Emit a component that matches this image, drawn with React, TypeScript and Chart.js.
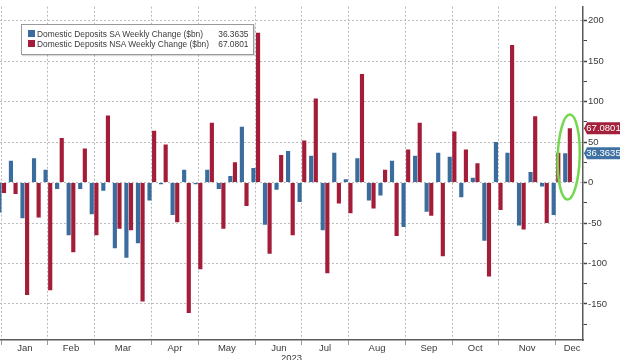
import React, { useEffect, useRef } from "react";
import { Chart, registerables } from "chart.js";

Chart.register(...registerables);

// Weekly changes, Jan 2023 - Dec 2023 ($bn)
const saValues = [
  -37, 27, -44, 30, 16, -8, -65, -8, -39, -10,
  -81, -93, -75, -22, -2, -40, 16, -2, 16, -8,
  8, 69, 18, -52, -9, 39, -24, 33, -59, 37,
  4, 30, -22, -16, 27, -55, 33, -36, 37, 32,
  -18, 6, -72, 50, 37, -53, 13, -5, -40, 36.3635,
];
const nsaValues = [
  -13, -14, -139, -43, -133, 55, -86, 42, -65, 83,
  -57, -59, -147, 64, 47, -49, -161, -107, 74, -57,
  25, -29, 185, -88, 34, -65, 52, 104, -112, -26,
  -38, 134, -32, 16, -66, 41, 74, -41, -91, 63,
  41, 24, -116, -34, 170, -58, 82, -50, 37, 67.0801,
];
const seriesNames = [
  "Domestic Deposits SA Weekly Change ($bn)",
  "Domestic Deposits NSA Weekly Change ($bn)",
];
const lastValueLabels = ["36.3635", "67.0801"];
const monthLabels = ["Jan", "Feb", "Mar", "Apr", "May", "Jun", "Jul", "Aug", "Sep", "Oct", "Nov", "Dec"];
// week index of the first week of each month (gridlines)
const monthStartWeeks = [0, 4, 8, 13, 17, 22, 26, 30, 35, 39, 43, 48];
// week index where each month label sits
const monthLabelWeeks = [2, 6, 10.5, 15, 19.5, 24, 28, 32.5, 37, 41, 45.5, 49.4];
const yTickValues = [-175, -150, -125, -100, -75, -50, -25, 0, 25, 50, 75, 100, 125, 150, 175, 200];
const yearLabel = "2023";

const BLUE = "#3a6d9e";
const RED = "#a31c38";
const X_MIN = -0.147;
const X_MAX = 50.34;
const Y_MIN = -194.5;
const Y_MAX = 217.3;
const FONT = "'Liberation Sans', Arial, sans-serif";

const overlayPlugin = {
  id: "overlay",
  afterDatasetsDraw(chart: any) {
    const { ctx, scales } = chart;
    const last = saValues.length - 1;
    const cx = scales.x.getPixelForValue(last + 0.1);
    const yTop = scales.y.getPixelForValue(84);
    const yBot = scales.y.getPixelForValue(-21);
    const cy = (yTop + yBot) / 2;
    ctx.save();
    ctx.beginPath();
    ctx.ellipse(cx, cy, 11, (yBot - yTop) / 2, 0.03, 0, Math.PI * 2);
    ctx.strokeStyle = "#74d84f";
    ctx.lineWidth = 2.5;
    ctx.stroke();
    ctx.restore();
  },
  afterDraw(chart: any) {
    const { ctx, scales, chartArea } = chart;
    const tags = [
      { v: saValues[saValues.length - 1], text: lastValueLabels[0], color: "#3f72a3" },
      { v: nsaValues[nsaValues.length - 1], text: lastValueLabels[1], color: "#a3213a" },
    ];
    ctx.save();
    tags.forEach((t) => {
      const y = scales.y.getPixelForValue(t.v);
      const x0 = chartArea.right + 1;
      const x1 = chart.width;
      ctx.beginPath();
      ctx.moveTo(x0, y);
      ctx.lineTo(x0 + 3, y - 6);
      ctx.lineTo(x1, y - 6);
      ctx.lineTo(x1, y + 6);
      ctx.lineTo(x0 + 3, y + 6);
      ctx.closePath();
      ctx.fillStyle = t.color;
      ctx.fill();
      ctx.fillStyle = "#ffffff";
      ctx.font = `9.5px ${FONT}`;
      ctx.textAlign = "center";
      ctx.textBaseline = "middle";
      ctx.fillText(t.text, (x0 + 3 + x1) / 2, y + 0.5);
    });
    ctx.restore();
  },
};

export default function App() {
  const canvasRef = useRef<HTMLCanvasElement | null>(null);

  useEffect(() => {
    const canvas = canvasRef.current;
    if (!canvas) return;
    const chart = new Chart(canvas, {
      type: "bar",
      data: {
        datasets: [
          {
            label: seriesNames[0],
            data: saValues.map((v, i) => ({ x: i, y: v })),
            backgroundColor: BLUE,
            borderWidth: 0,
            categoryPercentage: 0.8,
            barPercentage: 0.9,
          },
          {
            label: seriesNames[1],
            data: nsaValues.map((v, i) => ({ x: i, y: v })),
            backgroundColor: RED,
            borderWidth: 0,
            categoryPercentage: 0.8,
            barPercentage: 0.9,
          },
        ],
      },
      options: {
        animation: false,
        responsive: false,
        maintainAspectRatio: false,
        layout: { padding: 0 },
        plugins: {
          legend: { display: false },
          tooltip: { enabled: false },
        },
        scales: {
          x: {
            type: "linear",
            position: "bottom",
            offset: false,
            min: X_MIN,
            max: X_MAX,
            afterBuildTicks: (s: any) => {
              s.ticks = monthStartWeeks.map((v) => ({ value: v }));
            },
            afterFit: (s: any) => {
              s.height = 0;
            },
            ticks: { display: false },
            grid: {
              offset: false,
              color: "#b8b8b8",
              lineWidth: 1,
              drawTicks: true,
              tickLength: 5,
              tickColor: "#9a9a9a",
            },
            border: { display: true, color: "#5a5a5a", width: 1.5, dash: [2, 2] },
          },
          xl: {
            type: "linear",
            position: "bottom",
            offset: false,
            min: X_MIN,
            max: X_MAX,
            afterBuildTicks: (s: any) => {
              s.ticks = monthLabelWeeks.map((v) => ({ value: v }));
            },
            afterFit: (s: any) => {
              s.height = 20;
            },
            grid: { display: false, offset: false },
            border: { display: false },
            ticks: {
              autoSkip: false,
              maxRotation: 0,
              padding: -5,
              color: "#3a3a3a",
              font: { family: FONT, size: 9.5 },
              callback: (_v: any, i: number) => monthLabels[i],
            },
            title: {
              display: true,
              text: yearLabel,
              color: "#3a3a3a",
              font: { family: FONT, size: 9.5, lineHeight: 1 },
              padding: { top: 0, bottom: -3 },
            },
          },
          y: {
            type: "linear",
            position: "right",
            min: Y_MIN,
            max: Y_MAX,
            afterBuildTicks: (s: any) => {
              s.ticks = yTickValues.map((v) => ({ value: v }));
            },
            afterFit: (s: any) => {
              s.width = 37;
            },
            ticks: {
              padding: 1,
              color: "#3a3a3a",
              font: { family: FONT, size: 9.5 },
              callback: (v: any) => (Number(v) % 50 === 0 ? String(v) : ""),
            },
            grid: {
              color: (c: any) => (c.tick && c.tick.value % 50 === 0 ? "#bdbdbd" : "rgba(0,0,0,0)"),
              lineWidth: 1,
              drawTicks: true,
              tickLength: 4,
              tickColor: "#444",
              tickWidth: (c: any) => (c.tick && c.tick.value % 50 === 0 ? 1.5 : 1),
            },
            border: { display: true, color: "#5a5a5a", width: 1.5, dash: [2, 2] },
          },
        },
      } as any,
      plugins: [overlayPlugin],
    });
    return () => chart.destroy();
  }, []);

  const legendColors = [BLUE, RED];

  return (
    <div style={{ position: "fixed", left: 0, top: 0, width: 620, height: 360, background: "#fff" }}>
      <canvas ref={canvasRef} width={620} height={360} style={{ width: 620, height: 360, display: "block" }} />
      <div
        style={{
          position: "absolute",
          left: 21,
          top: 24,
          width: 233,
          height: 31,
          boxSizing: "border-box",
          border: "1.5px solid #9a9a9a",
          background: "#ffffff",
          boxShadow: "1px 1px 1px rgba(0,0,0,0.15)",
          fontFamily: FONT,
          fontSize: 8.4,
          color: "#3a3a3a",
        }}
      >
        {seriesNames.map((name, i) => (
          <div
            key={name}
            style={{
              position: "absolute",
              left: 5.5,
              right: 4.5,
              top: 3.8 + i * 10,
              height: 10,
              lineHeight: "10px",
              display: "flex",
              alignItems: "center",
              whiteSpace: "nowrap",
            }}
          >
            <span style={{ display: "inline-block", width: 7, height: 7, background: legendColors[i], marginRight: 2.5 }} />
            <span style={{ flex: 1 }}>{name}</span>
            <span>{lastValueLabels[i]}</span>
          </div>
        ))}
      </div>
    </div>
  );
}
